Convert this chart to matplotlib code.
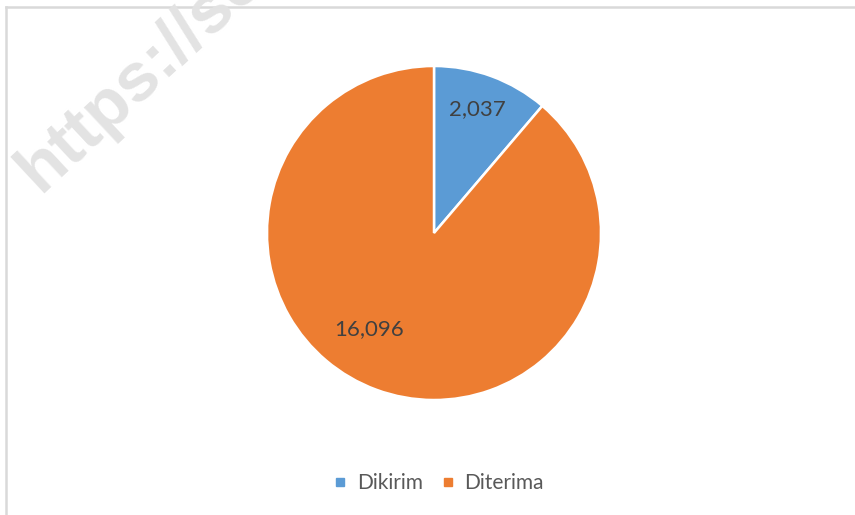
import numpy as np
import matplotlib
matplotlib.use("Agg")
import matplotlib.pyplot as plt
from matplotlib.lines import Line2D

labels = ["Dikirim", "Diterima"]
values = [2037, 16096]
colors = ["#5B9BD5", "#ED7D31"]
value_text = ["2,037", "16,096"]

W, H = 855, 515
fig = plt.figure(figsize=(W / 100, H / 100), dpi=100, facecolor="white")
plt.rcParams["font.family"] = ["Lato", "DejaVu Sans"]

# chart frame (only left / top edges visible in the crop)
fig.add_artist(Line2D([6, 6], [-5, H - 7], transform=None,
                      color="#d9d9d9", linewidth=1.8))
fig.add_artist(Line2D([6, W + 5], [H - 7, H - 7], transform=None,
                      color="#d9d9d9", linewidth=1.8))

# watermark
fig.text(40 / W, 1 - 194 / H, "https://se", rotation=43, rotation_mode="anchor",
         ha="left", va="baseline", fontsize=50, fontweight="bold",
         color="#e3e3e3", family="Liberation Sans")

cx, cy, r = 434, 233, 167
ax = fig.add_axes([(cx - r) / W, 1 - (cy + r) / H, 2 * r / W, 2 * r / H])
wedges, _ = ax.pie(values, colors=colors, startangle=90, counterclock=False,
                   wedgeprops=dict(edgecolor="white", linewidth=1.8))
ax.set_xlim(-1, 1)
ax.set_ylim(-1, 1)
ax.set_aspect("equal")
ax.axis("off")

dist = [0.785, 0.695]
shift = [1, -13.6]
for w, t, d, s in zip(wedges, value_text, dist, shift):
    th = np.deg2rad((w.theta1 + w.theta2) / 2 + s)
    ax.text(d * np.cos(th), d * np.sin(th), t, ha="center", va="center",
            fontsize=16, color="#404040")

handles = [Line2D([], [], linestyle="none", marker="s", markersize=6,
                  markerfacecolor=c, markeredgecolor=c) for c in colors]
fig.legend(handles, labels, loc="center", bbox_to_anchor=(439 / W, 1 - 483 / H),
           ncol=2, frameon=False, fontsize=15, labelcolor="#595959",
           handlelength=0.6, handletextpad=0.5, columnspacing=0.9)

fig.savefig("out.png", dpi=100, facecolor="white")
